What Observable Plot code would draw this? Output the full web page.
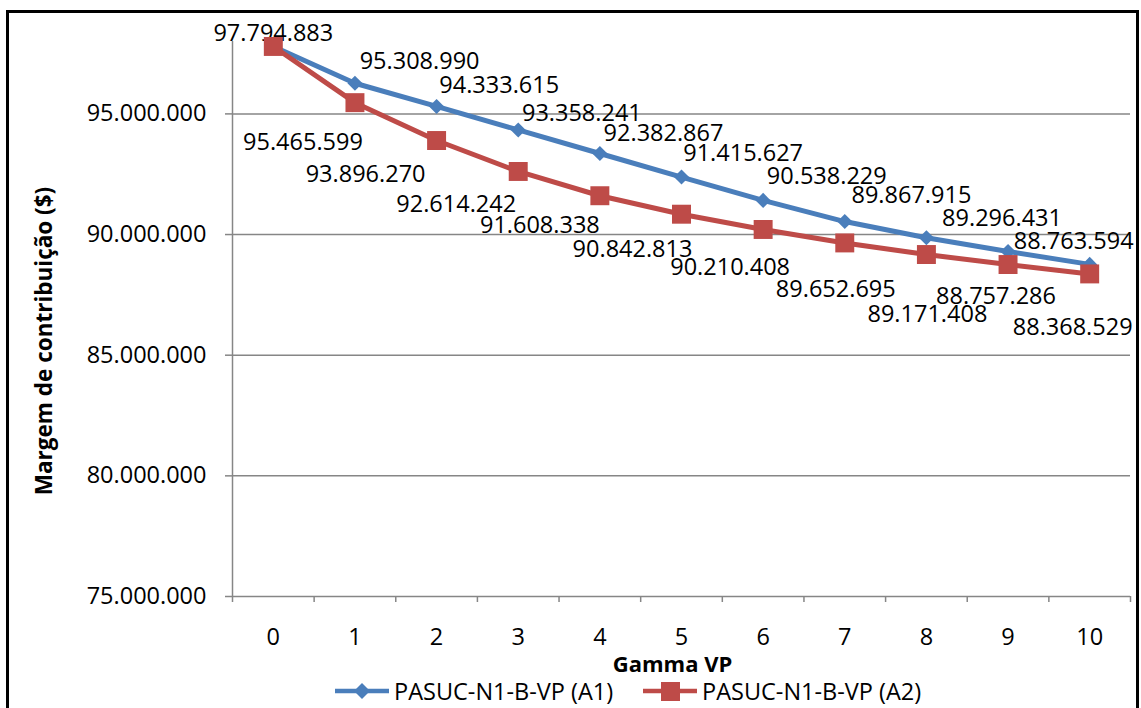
<!DOCTYPE html>
<html>
<head>
<meta charset="utf-8">
<script src="https://cdn.jsdelivr.net/npm/d3@7"></script>
<script src="https://cdn.jsdelivr.net/npm/@observablehq/plot@0.6"></script>
<style>
  html, body { margin: 0; padding: 0; background: #fff; }
  body { width: 1141px; height: 708px; position: relative; overflow: hidden; font-family: 'Open Sans', sans-serif; }
  #frame { position: absolute; left: 6px; top: 10px; width: 1133px; height: 720px; border: 3px solid #000; box-sizing: border-box; pointer-events: none; }
  #chart { position: absolute; left: 0; top: 0; }
  #legend { position: absolute; top: 677px; left: 0; width: 1141px; height: 28px; font-size: 23.5px; color: #000; }
  .item { position: absolute; top: 0; display: flex; align-items: center; height: 28px; white-space: nowrap; }
  .item svg { margin-right: 5px; }
</style>
</head>
<body>
<div id="chart"></div>
<div id="legend"></div>
<div id="frame"></div>
<script>
// ---- data ----
const gamma = [0, 1, 2, 3, 4, 5, 6, 7, 8, 9, 10];
const seriesA1 = [97794883, 96270000, 95308990, 94333615, 93358241, 92382867, 91415627, 90538229, 89867915, 89296431, 88763594];
const seriesA2 = [97794883, 95465599, 93896270, 92614242, 91608338, 90842813, 90210408, 89652695, 89171408, 88757286, 88368529];
const showLabelA1 = [true, false, true, true, true, true, true, true, true, true, true];
const showLabelA2 = [false, true, true, true, true, true, true, true, true, true, true];
const yTicks = [75000000, 80000000, 85000000, 90000000, 95000000];
const seriesNames = ["PASUC-N1-B-VP (A1)", "PASUC-N1-B-VP (A2)"];
const xTitle = "Gamma VP";
const yTitle = "Margem de contribuição ($)";

// ---- styling / label nudges (pixels) ----
const blue = "#4A7EBB", red = "#BE4B48", gray = "#868686";
const fs = 23.5;
const offA1 = [[0,-13],[0,0],[-17,-45],[-19,-45],[-18,-40],[-18,-44],[-20,-47],[-18,-45],[-15,-42],[-6,-33],[-16,-23]];
const offA2 = [[0,0],[-52,40],[-71,34],[-62,33],[-60,30],[-49,35],[-33,38],[-9,47],[1,60],[-12,32],[-17,54]];

const fmt = d => d3.format(",")(d).replace(/,/g, ".");
const dataA1 = gamma.map((g, i) => ({x: g, y: seriesA1[i], i}));
const dataA2 = gamma.map((g, i) => ({x: g, y: seriesA2[i], i}));

const labelMarks = (data, show, off) => data.filter(d => show[d.i]).map(d =>
  Plot.text([d], {x: "x", y: "y", text: d => fmt(d.y), dx: off[d.i][0], dy: off[d.i][1], fill: "#000", fontSize: fs}));

const boundaries = d3.range(-0.5, gamma.length, 1);

const plot = Plot.plot({
  width: 1141, height: 708,
  marginLeft: 232, marginRight: 11, marginTop: 41, marginBottom: 112,
  style: {fontFamily: "'Open Sans', sans-serif", fontSize: fs + "px", background: "transparent", color: "#000"},
  x: {domain: [-0.5, gamma.length - 0.5], axis: null},
  y: {domain: [75000000, 98000000], axis: null},
  marks: [
    Plot.ruleY(yTicks.slice(1), {x1: -0.5, x2: gamma.length - 0.5, stroke: gray, strokeWidth: 1.5}),
    Plot.axisY({ticks: yTicks, tickSize: 7, tickPadding: 19, tickFormat: fmt, label: null, stroke: gray, strokeWidth: 1.5, fill: "#000", fontSize: fs}),
    Plot.axisX({ticks: boundaries, tickSize: 6, tickFormat: () => "", label: null, stroke: gray, strokeWidth: 1.5}),
    Plot.axisX({ticks: gamma, tickSize: 0, tickPadding: 32, tickFormat: d => String(d), label: null, fill: "#000", fontSize: fs}),
    Plot.ruleX([-0.5], {stroke: gray, strokeWidth: 1.5}),
    Plot.ruleY([75000000], {x1: -0.5, x2: gamma.length - 0.5, stroke: gray, strokeWidth: 1.5}),
    Plot.line(dataA1, {x: "x", y: "y", stroke: blue, strokeWidth: 5}),
    Plot.dot(dataA1, {x: "x", y: "y", symbol: "diamond2", r: 6.8, fill: blue, stroke: "none"}),
    ...labelMarks(dataA1, showLabelA1, offA1),
    Plot.line(dataA2, {x: "x", y: "y", stroke: red, strokeWidth: 5}),
    Plot.dot(dataA2, {x: "x", y: "y", symbol: "square", r: 10.7, fill: red, stroke: "none"}),
    ...labelMarks(dataA2, showLabelA2, offA2),
    Plot.text([xTitle], {frameAnchor: "bottom", dx: -9, dy: 75, fontWeight: "bold", fontSize: 22, fill: "#000"}),
    Plot.text([yTitle], {frameAnchor: "left", textAnchor: "middle", rotate: -90, dx: -188, dy: 22, fontWeight: "bold", fontSize: 22.5, fill: "#000"})
  ]
});
document.getElementById("chart").appendChild(plot);

// ---- legend ----
const legend = document.getElementById("legend");
const legendItems = [
  {name: seriesNames[0], color: blue, symbol: "diamond", left: 335},
  {name: seriesNames[1], color: red, symbol: "square", left: 643}
];
legendItems.forEach(it => {
  const div = document.createElement("div");
  div.className = "item";
  div.style.left = it.left + "px";
  const marker = it.symbol === "diamond"
    ? `<path d="M27,6 L35,14 L27,22 L19,14 Z" fill="${it.color}"/>`
    : `<rect x="18" y="5" width="19" height="19" fill="${it.color}"/>`;
  div.innerHTML = `<svg width="54" height="28"><line x1="0" x2="54" y1="14" y2="14" stroke="${it.color}" stroke-width="4.5" stroke-linecap="round"/>${marker}</svg><span>${it.name}</span>`;
  legend.appendChild(div);
});
</script>
</body>
</html>
